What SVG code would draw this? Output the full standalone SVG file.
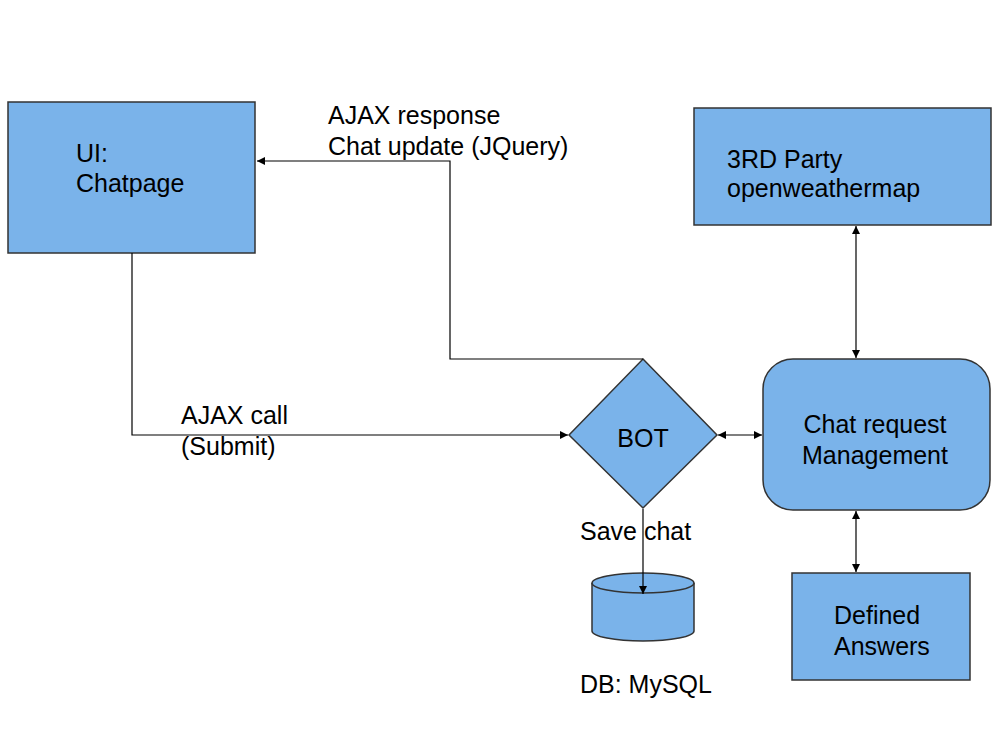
<svg xmlns="http://www.w3.org/2000/svg" width="1008" height="746" viewBox="0 0 1008 746">
<style>
.n{fill:#7ab3ea;stroke:#333;stroke-width:1.5}
.t{font-family:"Liberation Sans",Arial,sans-serif;font-size:25px;fill:#000}
.c{fill:none;stroke:#000;stroke-width:1.2}
</style>
<defs>
<marker id="a" viewBox="0 0 10 10" refX="10" refY="5" markerWidth="8" markerHeight="8" markerUnits="userSpaceOnUse" orient="auto-start-reverse">
<path d="M0,0 L10,5 L0,10 z" fill="#000"/>
</marker>
</defs>
<rect width="1008" height="746" fill="#fff"/>
<g id="ui">
<rect class="n" x="8" y="102" width="247" height="151"/>
<text class="t" x="76" y="162">UI:</text>
<text class="t" x="76" y="192">Chatpage</text>
</g>
<g id="bot">
<polygon class="n" points="643,359 717,435 643,508 569,435"/>
<text class="t" x="643" y="447" text-anchor="middle">BOT</text>
</g>
<g id="db">
<path class="n" d="M592,583 L592,631 A51,10 0 0 0 694,631 L694,583"/>
<ellipse class="n" cx="643" cy="583" rx="51" ry="10"/>
<text class="t" x="580" y="693">DB: MySQL</text>
</g>
<g id="third-party">
<rect class="n" x="694" y="108" width="297" height="117"/>
<text class="t" x="727" y="168">3RD Party</text>
<text class="t" x="727" y="197">openweathermap</text>
</g>
<g id="chat-request">
<rect class="n" x="763" y="359" width="227" height="151" rx="30" ry="30"/>
<text class="t" x="875" y="433" text-anchor="middle">Chat request</text>
<text class="t" x="875" y="464" text-anchor="middle">Management</text>
</g>
<g id="defined-answers">
<rect class="n" x="792" y="573" width="178" height="107"/>
<text class="t" x="834" y="624">Defined</text>
<text class="t" x="834" y="655">Answers</text>
</g>
<g id="connectors">
<polyline class="c" points="643,359 450,359 450,161 257,161" marker-end="url(#a)"/>
<polyline class="c" points="132,253 132,435 568,435" marker-end="url(#a)"/>
<line class="c" x1="718" y1="435" x2="762" y2="435" marker-start="url(#a)" marker-end="url(#a)"/>
<line class="c" x1="856" y1="226" x2="856" y2="358" marker-start="url(#a)" marker-end="url(#a)"/>
<line class="c" x1="856" y1="511" x2="856" y2="572" marker-start="url(#a)" marker-end="url(#a)"/>
<line class="c" x1="643" y1="509" x2="643" y2="594" marker-end="url(#a)"/>
</g>
<g id="labels">
<text class="t" x="328" y="124">AJAX response</text>
<text class="t" x="328" y="155">Chat update (JQuery)</text>
<text class="t" x="181" y="424">AJAX call</text>
<text class="t" x="181" y="455">(Submit)</text>
<text class="t" x="580" y="540">Save chat</text>
</g>
</svg>
